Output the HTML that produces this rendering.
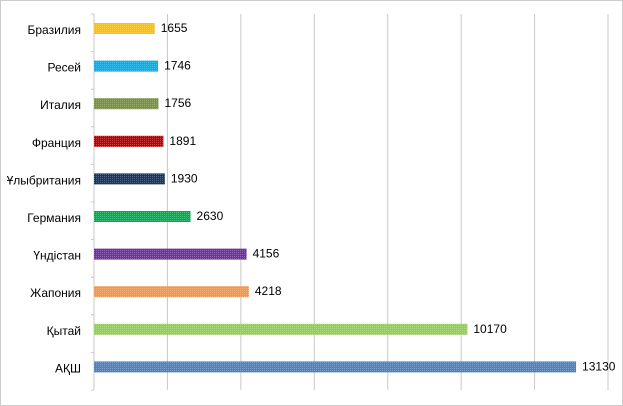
<!DOCTYPE html>
<html><head><meta charset="utf-8"><style>
html,body{margin:0;padding:0;background:#fff;}
svg{display:block;font-family:"Liberation Sans",sans-serif;}
</style></head><body>
<svg id="chart" width="623" height="406" viewBox="0 0 623 406">
<defs>
<pattern id="dots" width="2" height="2" patternUnits="userSpaceOnUse"><rect width="1" height="1" fill="rgba(255,255,255,0.25)"/></pattern>
</defs>
<rect x="0.5" y="0.5" width="622" height="405" fill="#fff" stroke="#999" stroke-dasharray="1,1"/>
<g id="grid"></g><g id="bars"></g><g id="labels"></g>
</svg>
<script>
const categories=["Бразилия","Ресей","Италия","Франция","Ұлыбритания","Германия","Үндістан","Жапония","Қытай","АҚШ"];
const values=[1655,1746,1756,1891,1930,2630,4156,4218,10170,13130];
const colors=["#ffc000","#00b0f0","#77933c","#c00000","#17375e","#00b050","#7030a0","#f79646","#92d050","#4f81bd"];
const ticks=[0,2000,4000,6000,8000,10000,12000,14000];
const NS="http://www.w3.org/2000/svg";
const x0=94,x1=608,yTop=14,yBot=390,maxV=14000;
const xs=v=>x0+(v/maxV)*(x1-x0);
const band=(yBot-yTop)/categories.length;
function mk(t,a,p){const e=document.createElementNS(NS,t);for(const k in a)e.setAttribute(k,a[k]);p.appendChild(e);return e;}
const g=document.getElementById('grid'),b=document.getElementById('bars'),l=document.getElementById('labels');
ticks.forEach(t=>{if(t===0)return;const ln=mk('line',{x1:xs(t),x2:xs(t),y1:yTop,y2:yBot,stroke:'#c8c8c8','stroke-width':1},g);

});
const ax=mk('line',{x1:x0,x2:x0,y1:yTop,y2:yBot,stroke:'#c8c8c8','stroke-width':1},g);


for(let i=0;i<=categories.length;i++){const tk=mk('line',{x1:x0-3,x2:x0,y1:yTop+i*band,y2:yTop+i*band,stroke:'#c8c8c8'},g);

}
categories.forEach((c,i)=>{
const top=yTop+i*band+9;
const r=mk('rect',{x:x0,y:top,width:xs(values[i])-x0,height:11,fill:colors[i]},b);


const p=mk('rect',{x:x0,y:top,width:xs(values[i])-x0,height:11,fill:'url(#dots)'},b);


const t=mk('text',{x:81,y:top+11,'text-anchor':'end','font-size':'12',fill:'#000'},l);t.textContent=c;


const v=mk('text',{x:xs(values[i])+6,y:top+9,'font-size':'12',fill:'#000'},l);v.textContent=values[i];


});
</script>
</body></html>
